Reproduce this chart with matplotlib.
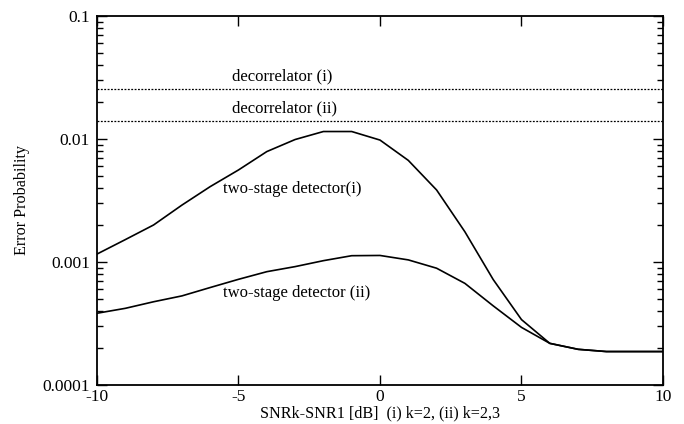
import matplotlib
matplotlib.use("Agg")
import matplotlib.pyplot as plt
from matplotlib.ticker import LogLocator, FixedLocator, NullFormatter

plt.rcParams['font.family'] = ['Liberation Serif', 'DejaVu Serif']

# SNR difference (dB)
snr_diff = [-10, -9, -8, -7, -6, -5, -4, -3, -2, -1, 0, 1, 2, 3, 4, 5, 6, 7, 8, 9, 10]

# Two-stage detector error probabilities
two_stage_i = [0.00116, 0.00152, 0.0020, 0.0029, 0.0041, 0.0056, 0.0079, 0.0099,
               0.0115, 0.0115, 0.0098, 0.0067, 0.00385, 0.00176, 0.00072, 0.00034,
               0.000218, 0.000195, 0.000187, 0.000187, 0.000187]
two_stage_ii = [0.000383, 0.00042, 0.000475, 0.00053, 0.00062, 0.000723, 0.000834,
                0.000917, 0.001025, 0.001125, 0.00113, 0.00104, 0.00089, 0.00067,
                0.00044, 0.000294, 0.000218, 0.000195, 0.000187, 0.000187, 0.000187]

# Decorrelator error probabilities (independent of SNR difference)
decorrelator_i = 0.0255
decorrelator_ii = 0.0141

fig = plt.figure(figsize=(6.84, 4.24), dpi=100)
ax = fig.add_axes([0.1418, 0.0920, 0.8275, 0.8703])

ax.plot(snr_diff, two_stage_i, color='black', lw=1.2)
ax.plot(snr_diff, two_stage_ii, color='black', lw=1.2)
ax.axhline(decorrelator_i, color='black', lw=0.9, linestyle=(0, (1.5, 1.2)))
ax.axhline(decorrelator_ii, color='black', lw=0.9, linestyle=(0, (1.5, 1.2)))

ax.set_yscale('log')
ax.set_xlim(-10, 10)
ax.set_ylim(0.0001, 0.1)

fs = 12
ax.text(-5.23, decorrelator_i * 1.08, 'decorrelator (i)', fontsize=fs, va='bottom', ha='left')
ax.text(-5.23, decorrelator_ii * 1.08, 'decorrelator (ii)', fontsize=fs, va='bottom', ha='left')
ax.text(-5.55, 0.0039, 'two-stage detector(i)', fontsize=fs, va='center', ha='left')
ax.text(-5.55, 0.00056, 'two-stage detector (ii)', fontsize=fs, va='center', ha='left')

ax.set_xticks([-10, -5, 0, 5, 10])
ax.set_xticklabels(['-10', '-5', '0', '5', '10'])
ax.yaxis.set_major_locator(FixedLocator([0.0001, 0.001, 0.01, 0.1]))
ax.yaxis.set_minor_locator(LogLocator(base=10, subs=range(2, 10)))
ax.yaxis.set_minor_formatter(NullFormatter())
ax.set_yticklabels(['0.0001', '0.001', '0.01', '0.1'])

ax.tick_params(which='both', direction='in', top=True, right=True, labelsize=12.5, width=1.0)
ax.tick_params(axis='x', which='major', length=7, pad=3)
ax.tick_params(axis='y', which='major', length=7, pad=5)
ax.tick_params(which='minor', length=4)
for s in ax.spines.values():
    s.set_linewidth(1.3)

ax.set_xlabel('SNRk-SNR1 [dB]  (i) k=2, (ii) k=2,3', fontsize=11.6, labelpad=0)
ax.set_ylabel('Error Probability', fontsize=11.6, labelpad=9)

fig.savefig('out.png', dpi=100)
